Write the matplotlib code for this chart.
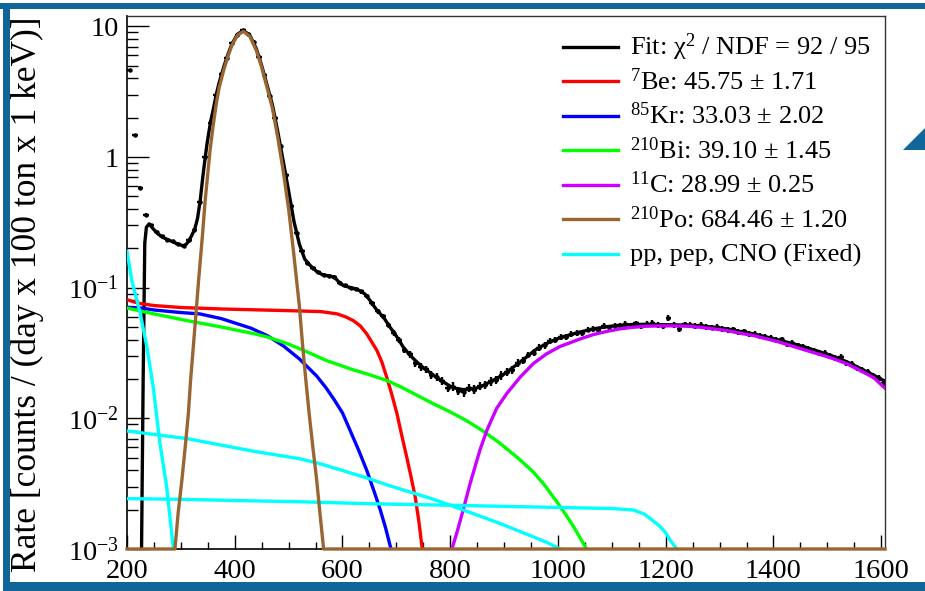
import numpy as np
import matplotlib
matplotlib.use("Agg")
import matplotlib.pyplot as plt
from matplotlib.lines import Line2D
from matplotlib.patches import Polygon, Rectangle
from matplotlib.ticker import FixedFormatter, FixedLocator, LogLocator, MultipleLocator, NullFormatter

plt.rcParams["font.family"] = ["Liberation Serif", "DejaVu Serif"]
plt.rcParams["mathtext.fontset"] = "custom"
plt.rcParams["mathtext.rm"] = "Liberation Serif"
plt.rcParams["mathtext.it"] = "Liberation Serif:italic"
plt.rcParams["mathtext.bf"] = "Liberation Serif:bold"

# ---- measured spectrum, 10 keV bins starting at 200 keV ----
BIN_WIDTH = 10
DATA_E = np.arange(205, 1606, BIN_WIDTH)
DATA_RATE = [
    4.6, 1.47, 0.58, 0.36, 0.30, 0.265, 0.247, 0.233, 0.226, 0.215,
    0.210, 0.230, 0.276, 0.45, 1.00, 1.83, 2.98, 4.35, 5.75, 7.40,
    8.65, 9.35, 8.80, 7.55, 5.85, 4.25, 2.95, 2.00, 1.22, 0.73,
    0.42, 0.262, 0.19, 0.155, 0.141, 0.131, 0.126, 0.122, 0.121, 0.108,
    0.104, 0.0995, 0.0985, 0.0935, 0.0865, 0.076, 0.066, 0.0605, 0.052, 0.045,
    0.040, 0.0335, 0.0310, 0.0265, 0.0248, 0.0238, 0.0214, 0.0208, 0.0192, 0.0171,
    0.0175, 0.0162, 0.0158, 0.0171, 0.0166, 0.0178, 0.0181, 0.0192, 0.0197, 0.0214,
    0.0228, 0.0236, 0.0265, 0.0277, 0.0306, 0.0318, 0.0348, 0.0362, 0.0390, 0.0398,
    0.0422, 0.0418, 0.0443, 0.0452, 0.0446, 0.0478, 0.0482, 0.0474, 0.0508, 0.0497,
    0.0512, 0.0509, 0.0528, 0.0515, 0.0532, 0.0508, 0.0528, 0.0541, 0.0520, 0.0507,
    0.0585, 0.0519, 0.0485, 0.0524, 0.0520, 0.0511, 0.0518, 0.0502, 0.0495, 0.0498,
    0.0486, 0.0476, 0.0480, 0.0459, 0.0462, 0.0440, 0.0445, 0.0428, 0.0420, 0.0411,
    0.0397, 0.0402, 0.0372, 0.0378, 0.0362, 0.0352, 0.0340, 0.0328, 0.0316, 0.0318,
    0.0301, 0.0291, 0.0297, 0.0265, 0.0262, 0.0244, 0.0235, 0.0227, 0.0212, 0.0203,
    0.0188,
]
# relative statistical uncertainty per bin
DATA_REL_ERR = [
    0.02, 0.02, 0.03, 0.03, 0.02, 0.02, 0.02, 0.02, 0.02, 0.02,
    0.02, 0.02, 0.02, 0.01, 0.01, 0.005, 0.005, 0.005, 0.005, 0.005,
    0.005, 0.005, 0.005, 0.005, 0.005, 0.005, 0.005, 0.005, 0.01, 0.01,
    0.015, 0.02, 0.02, 0.025, 0.025, 0.03, 0.03, 0.03, 0.03, 0.03,
    0.03, 0.03, 0.035, 0.035, 0.035, 0.04, 0.04, 0.045, 0.045, 0.05,
    0.05, 0.055, 0.06, 0.06, 0.065, 0.065, 0.07, 0.07, 0.07, 0.075,
    0.075, 0.075, 0.075, 0.075, 0.075, 0.075, 0.075, 0.075, 0.075, 0.075,
    0.07, 0.07, 0.065, 0.065, 0.06, 0.06, 0.06, 0.055, 0.055, 0.055,
    0.05, 0.05, 0.05, 0.05, 0.05, 0.05, 0.05, 0.05, 0.05, 0.05,
    0.05, 0.05, 0.05, 0.05, 0.05, 0.05, 0.05, 0.05, 0.05, 0.05,
    0.05, 0.05, 0.05, 0.05, 0.05, 0.05, 0.05, 0.05, 0.05, 0.05,
    0.05, 0.05, 0.05, 0.05, 0.05, 0.05, 0.05, 0.05, 0.05, 0.05,
    0.05, 0.05, 0.05, 0.05, 0.05, 0.05, 0.05, 0.05, 0.055, 0.055,
    0.055, 0.055, 0.055, 0.055, 0.055, 0.055, 0.055, 0.055, 0.055, 0.055,
    0.06,
]

# ---- total fit ----
FIT_E = [227, 230, 233, 236, 241, 249, 258, 267, 280, 292, 304, 310, 314, 320, 326,
         331, 336, 341, 345, 349, 355, 360, 366, 371, 380, 388, 395, 405, 416, 428,
         440, 450, 460, 470, 480, 490, 500, 510, 520, 530, 540, 552, 564, 577, 586,
         592, 602, 614, 626, 636, 642, 651, 664, 676, 688, 701, 713, 725, 738, 750,
         762, 775, 788, 800, 812, 824, 837, 849, 862, 874, 886, 899, 911, 923, 936,
         948, 960, 973, 985, 998, 1010, 1022, 1041, 1066, 1091, 1115, 1140, 1165, 1190,
         1214, 1239, 1264, 1289, 1313, 1338, 1363, 1388, 1412, 1437, 1462, 1487, 1511,
         1536, 1561, 1586, 1607]
FIT_RATE = [0.001, 0.02, 0.22, 0.29, 0.308, 0.281, 0.257, 0.242, 0.229, 0.218, 0.209,
            0.215, 0.226, 0.250, 0.283, 0.34, 0.47, 0.72, 0.98, 1.30, 1.85, 2.30, 3.05,
            3.70, 4.95, 6.2, 7.35, 8.7, 9.3, 8.55, 6.75, 5.0, 3.55, 2.5, 1.55, 0.93, 0.55,
            0.32, 0.215, 0.165, 0.148, 0.133, 0.125, 0.123, 0.119, 0.112, 0.1035, 0.1005,
            0.0975, 0.093, 0.089, 0.080, 0.067, 0.0595, 0.050, 0.042, 0.035, 0.0305, 0.027,
            0.0244, 0.0225, 0.0205, 0.0189, 0.0176, 0.0169, 0.0166, 0.0167, 0.0171, 0.0179,
            0.019, 0.0202, 0.0217, 0.0236, 0.0257, 0.0282, 0.031, 0.0338, 0.0362, 0.0385,
            0.0405, 0.0422, 0.0435, 0.0458, 0.0484, 0.0503, 0.0516, 0.0523, 0.0524, 0.0521,
            0.0519, 0.0517, 0.0511, 0.0498, 0.0484, 0.0462, 0.0443, 0.0418, 0.0395, 0.0372,
            0.0347, 0.0322, 0.0298, 0.0271, 0.0241, 0.0214, 0.0192]

# ---- fit components ----
BE7_E = [200, 212, 225, 250, 300, 375, 450, 500, 560, 590, 605, 620, 633, 645, 655,
         664, 673, 682, 691, 701, 710, 719, 727, 735, 742, 748]
BE7_RATE = [0.081, 0.078, 0.0755, 0.073, 0.0705, 0.0687, 0.0675, 0.0667, 0.0656, 0.063,
            0.060, 0.056, 0.051, 0.0443, 0.038, 0.033, 0.027, 0.0207, 0.0155, 0.0109,
            0.0074, 0.0051, 0.0036, 0.0025, 0.0016, 0.001]

KR85_E = [200, 225, 250, 300, 335, 375, 430, 460, 490, 520, 552, 570, 585, 600, 614,
          630, 645, 660, 670, 680, 690]
KR85_RATE = [0.0708, 0.070, 0.0675, 0.0645, 0.063, 0.058, 0.049, 0.043, 0.0359, 0.0285,
             0.0211, 0.0170, 0.0138, 0.011, 0.0081, 0.0057, 0.0040, 0.00266, 0.0020,
             0.00145, 0.001]

BI210_E = [200, 250, 311, 375, 435, 460, 500, 540, 570, 620, 645, 682, 707, 744, 769,
           800, 831, 860, 892, 925, 954, 975, 998, 1015, 1029, 1042, 1053]
BI210_RATE = [0.0698, 0.063, 0.056, 0.050, 0.0445, 0.042, 0.037, 0.0315, 0.0277, 0.0235,
              0.0219, 0.0195, 0.0175, 0.0146, 0.0129, 0.0112, 0.00955, 0.00804, 0.00646,
              0.0050, 0.00389, 0.00309, 0.00229, 0.00182, 0.00148, 0.0012, 0.001]

C11_E = [803, 812, 824, 837, 855, 868, 886, 905, 930, 954, 979, 1004, 1041, 1066, 1091,
         1115, 1140, 1165, 1190, 1214, 1239, 1264, 1289, 1313, 1338, 1363, 1388, 1412,
         1437, 1462, 1487, 1511, 1536, 1561, 1586, 1607]
C11_RATE = [0.001, 0.00132, 0.00199, 0.00318, 0.0057, 0.0081, 0.0119, 0.0155, 0.0207,
            0.0262, 0.0312, 0.0355, 0.0405, 0.0438, 0.0463, 0.0484, 0.0498, 0.0507, 0.051,
            0.051, 0.0507, 0.0498, 0.0484, 0.047, 0.0448, 0.043, 0.0405, 0.0382, 0.0355,
            0.033, 0.0308, 0.0286, 0.0262, 0.0232, 0.0205, 0.0170]

# Po210 is drawn at the axis floor where it drops below 1e-3
PO210_E = [200, 289, 295, 302, 308, 314, 318, 323, 328, 333, 340, 345, 354, 360, 366,
           371, 380, 388, 395, 405, 416, 428, 440, 450, 460, 470, 480, 490, 500, 509,
           520, 526, 532, 538, 545, 552, 558, 565, 1607]
PO210_RATE = [0.001, 0.001, 0.0019, 0.0034, 0.006, 0.011, 0.0195, 0.035, 0.063, 0.115,
              0.25, 0.46, 1.11, 1.75, 2.6, 3.4, 4.7, 6.0, 7.2, 8.55, 9.15, 8.4, 6.55,
              4.85, 3.4, 2.35, 1.40, 0.78, 0.40, 0.19, 0.072, 0.036, 0.0195, 0.011, 0.006,
              0.0034, 0.0019, 0.001, 0.001]

PP_E = [200, 209, 224, 237, 249, 261, 274, 286]
PP_RATE = [0.19, 0.113, 0.065, 0.035, 0.017, 0.0065, 0.0029, 0.001]

CNO_E = [200, 311, 435, 521, 558, 645, 682, 769, 830, 892, 954, 980, 1004]
CNO_RATE = [0.0080, 0.0070, 0.0056, 0.0049, 0.0045, 0.0035, 0.0031, 0.0024, 0.00195,
            0.00157, 0.00124, 0.00112, 0.001]

PEP_E = [200, 300, 400, 520, 650, 780, 900, 1000, 1100, 1140, 1160, 1171, 1180, 1190,
         1200, 1208, 1215, 1221]
PEP_RATE = [0.00243, 0.0024, 0.00235, 0.0023, 0.00222, 0.00217, 0.00212, 0.00208,
            0.00204, 0.00199, 0.00185, 0.00171, 0.0016, 0.00148, 0.00133, 0.00117,
            0.00107, 0.001]

LEGEND = [
    ("Fit: χ$^{2}$ / NDF = 92 / 95", "black"),
    ("$^{7}$Be: 45.75 ± 1.71", "#ff0000"),
    ("$^{85}$Kr: 33.03 ± 2.02", "#0000ff"),
    ("$^{210}$Bi: 39.10 ± 1.45", "#00ff00"),
    ("$^{11}$C: 28.99 ± 0.25", "#cc00ff"),
    ("$^{210}$Po: 684.46 ± 1.20", "#996633"),
    ("pp, pep, CNO (Fixed)", "#00ffff"),
]

Y_TICKS = [1e-3, 1e-2, 1e-1, 1, 10]
Y_TICK_LABELS = ["$10^{-3}$", "$10^{-2}$", "$10^{-1}$", "1", "10"]

W, H = 925, 591
LW = 2.4
FRAME_BLUE = "#106699"

fig = plt.figure(figsize=(W / 100, H / 100), dpi=100)
ax = fig.add_axes([127 / W, 42 / H, 758 / W, 533 / H])
ax.set_yscale("log")

rate = np.array(DATA_RATE)
err = rate * np.array(DATA_REL_ERR)
ax.errorbar(DATA_E, rate, xerr=BIN_WIDTH / 2, yerr=err, fmt="o", ms=3.2, mew=0,
            color="black", ecolor="black", elinewidth=1.7, capsize=0, zorder=2)
ax.plot(FIT_E, FIT_RATE, color="black", lw=LW, zorder=3)

ax.plot(BE7_E, BE7_RATE, color="#ff0000", lw=LW, zorder=4)
ax.plot(KR85_E, KR85_RATE, color="#0000ff", lw=LW, zorder=4)
ax.plot(BI210_E, BI210_RATE, color="#00ff00", lw=LW, zorder=4)
ax.plot(C11_E, C11_RATE, color="#cc00ff", lw=LW, zorder=4)
ax.plot(PO210_E, PO210_RATE, color="#996633", lw=LW, zorder=5, clip_on=False)
for e, r in [(PP_E, PP_RATE), (CNO_E, CNO_RATE), (PEP_E, PEP_RATE)]:
    ax.plot(e, r, color="#00ffff", lw=LW, zorder=4)

ax.set_xlim(200, 1607)
ax.set_ylim(1e-3, 12)

ax.xaxis.set_major_locator(MultipleLocator(200))
ax.xaxis.set_minor_locator(MultipleLocator(50))
ax.yaxis.set_major_locator(FixedLocator(Y_TICKS))
ax.yaxis.set_major_formatter(FixedFormatter(Y_TICK_LABELS))
ax.yaxis.set_minor_locator(LogLocator(base=10, subs=np.arange(2, 10)))
ax.yaxis.set_minor_formatter(NullFormatter())

ax.tick_params(which="both", direction="in", top=False, right=False, width=1)
ax.tick_params(axis="x", which="major", length=10, pad=7, labelsize=20.5)
ax.tick_params(axis="x", which="minor", length=5)
ax.tick_params(axis="y", which="major", length=16, pad=6, labelsize=20.5)
ax.tick_params(axis="y", which="minor", length=8)
for side in ["left", "bottom"]:
    ax.spines[side].set_linewidth(1.2)
for side in ["top", "right"]:
    ax.spines[side].set_linewidth(1.0)
    ax.spines[side].set_color("#333333")

ax.set_ylabel("Rate [counts / (day x 100 ton x 1 keV)]", fontsize=25.5, loc="top")
ax.yaxis.set_label_coords((44 - 127) / 758, 1.0)

# legend drawn in figure pixels
for i, (label, color) in enumerate(LEGEND):
    base = 55 + i * 34.5
    ly = 1 - (base - 8.5) / H
    fig.add_artist(Line2D([563 / W, 618 / W], [ly, ly], color=color, lw=LW))
    fig.text(630 / W, 1 - base / H, label, fontsize=19, va="baseline", ha="left")

# slide frame
fig.add_artist(Rectangle((0, 1 - 9 / H), 1, 6 / H, transform=fig.transFigure,
                         color=FRAME_BLUE, lw=0))
fig.add_artist(Rectangle((3 / W, 0), 7 / W, 1 - 3 / H, transform=fig.transFigure,
                         color=FRAME_BLUE, lw=0))
fig.add_artist(Rectangle((3 / W, 0), 1, 9 / H, transform=fig.transFigure,
                         color=FRAME_BLUE, lw=0))
fig.add_artist(Polygon([(903 / W, 1 - 150 / H), (1, 1 - 128 / H), (1, 1 - 150 / H)],
                       closed=True, transform=fig.transFigure, color=FRAME_BLUE, lw=0))

fig.savefig("out.png", dpi=100)
